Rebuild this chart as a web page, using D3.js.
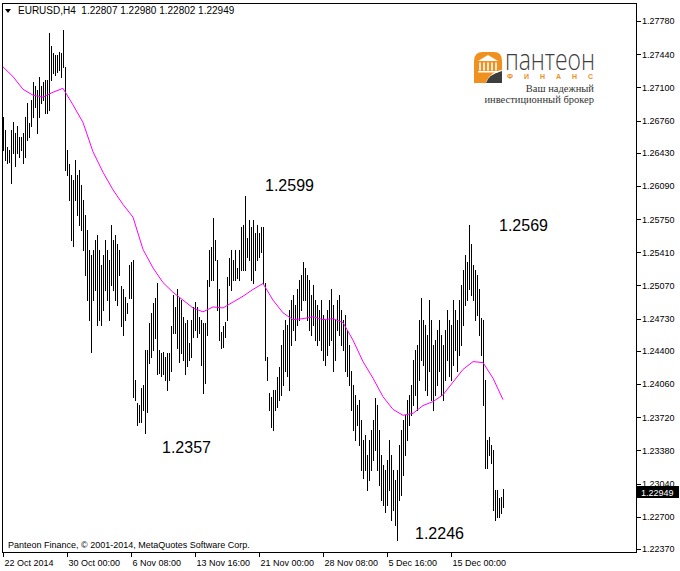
<!DOCTYPE html>
<html>
<head>
<meta charset="utf-8">
<script src="https://cdn.jsdelivr.net/npm/d3@7"></script>
<style>
  body { margin: 0; background: #fff; }
  svg { display: block; }
  text { font-family: "Liberation Sans", Arial, sans-serif; }
</style>
</head>
<body>
<div id="chart"></div>
<script>
// EURUSD H4, 22 Oct - 17 Dec 2014
var symbol = 'EURUSD,H4';
var lastQuote = [1.22807, 1.22980, 1.22802, 1.22949]; // open high low close

var highs = [
  1.2680,1.2666,1.2649,1.2646,1.2666,1.2675,1.2663,1.2670,1.2659,1.2659,
  1.2663,1.2680,1.2694,1.2674,1.2697,1.2715,1.2711,1.2707,1.2721,1.2711,
  1.2715,1.2718,1.2718,1.2766,1.2752,1.2745,1.2743,1.2743,1.2746,1.2745,
  1.2769,1.2731,1.2646,1.2631,1.2620,1.2615,1.2636,1.2620,1.2625,1.2610,
  1.2595,1.2579,1.2564,1.2543,1.2538,1.2543,1.2554,1.2559,1.2543,1.2528,
  1.2538,1.2554,1.2543,1.2533,1.2569,1.2554,1.2559,1.2549,1.2543,1.2506,
  1.2503,1.2495,1.2489,1.2528,1.2531,1.2533,1.2410,1.2387,1.2385,1.2402,
  1.2405,1.2441,1.2441,1.2469,1.2479,1.2489,1.2494,1.2510,1.2441,1.2438,
  1.2439,1.2434,1.2438,1.2438,1.2465,1.2497,1.2485,1.2503,1.2495,1.2492,
  1.2475,1.2469,1.2472,1.2448,1.2472,1.2485,1.2490,1.2485,1.2475,1.2472,
  1.2469,1.2469,1.2513,1.2543,1.2546,1.2576,1.2554,1.2533,1.2503,1.2459,
  1.2465,1.2470,1.2516,1.2535,1.2543,1.2533,1.2543,1.2525,1.2543,1.2567,
  1.2569,1.2599,1.2556,1.2574,1.2567,1.2574,1.2561,1.2569,1.2561,1.2567,
  1.2567,1.2510,1.2434,1.2397,1.2393,1.2400,1.2400,1.2413,1.2423,1.2446,
  1.2461,1.2472,1.2467,1.2482,1.2492,1.2497,1.2487,1.2503,1.2513,1.2518,
  1.2531,1.2525,1.2518,1.2513,1.2497,1.2508,1.2492,1.2487,1.2482,1.2492,
  1.2477,1.2472,1.2482,1.2492,1.2503,1.2487,1.2472,1.2492,1.2497,1.2482,
  1.2472,1.2477,1.2461,1.2446,1.2419,1.2405,1.2395,1.2385,1.2390,1.2369,
  1.2349,1.2354,1.2333,1.2349,1.2359,1.2369,1.2392,1.2385,1.2359,1.2333,
  1.2323,1.2318,1.2328,1.2349,1.2333,1.2318,1.2308,1.2318,1.2344,1.2359,
  1.2369,1.2374,1.2390,1.2395,1.2405,1.2431,1.2441,1.2446,1.2472,1.2494,
  1.2472,1.2467,1.2456,1.2492,1.2472,1.2446,1.2451,1.2461,1.2472,1.2456,
  1.2446,1.2461,1.2482,1.2472,1.2467,1.2492,1.2482,1.2472,1.2492,1.2508,
  1.2523,1.2538,1.2531,1.2569,1.2549,1.2528,1.2523,1.2518,1.2503,1.2474,
  1.2472,1.2410,1.2349,1.2352,1.2344,1.2338,1.2297,1.2297,1.2289,1.2290,
  1.2298
];

var lows = [
  1.2646,1.2636,1.2633,1.2634,1.2612,1.2643,1.2629,1.2643,1.2639,1.2646,
  1.2633,1.2639,1.2656,1.2659,1.2670,1.2680,1.2690,1.2663,1.2680,1.2694,
  1.2697,1.2684,1.2684,1.2687,1.2718,1.2725,1.2723,1.2726,1.2728,1.2721,
  1.2731,1.2625,1.2620,1.2595,1.2554,1.2547,1.2595,1.2579,1.2569,1.2564,
  1.2543,1.2518,1.2492,1.2472,1.2439,1.2492,1.2502,1.2467,1.2472,1.2467,
  1.2482,1.2502,1.2492,1.2472,1.2508,1.2502,1.2492,1.2487,1.2518,1.2465,
  1.2456,1.2472,1.2479,1.2494,1.2494,1.2393,1.2390,1.2364,1.2367,1.2367,
  1.2379,1.2356,1.2377,1.2428,1.2434,1.2441,1.2453,1.2416,1.2417,1.2414,
  1.2416,1.2410,1.2400,1.2410,1.2419,1.2458,1.2458,1.2443,1.2429,1.2438,
  1.2431,1.2416,1.2424,1.2431,1.2434,1.2454,1.2461,1.2454,1.2458,1.2426,
  1.2397,1.2407,1.2456,1.2506,1.2513,1.2513,1.2533,1.2482,1.2451,1.2443,
  1.2444,1.2454,1.2472,1.2508,1.2502,1.2513,1.2513,1.2515,1.2513,1.2523,
  1.2523,1.2523,1.2536,1.2533,1.2513,1.2510,1.2523,1.2533,1.2536,1.2541,
  1.2510,1.2431,1.2410,1.2379,1.2362,1.2359,1.2379,1.2383,1.2390,1.2395,
  1.2405,1.2419,1.2414,1.2400,1.2446,1.2461,1.2451,1.2467,1.2472,1.2482,
  1.2492,1.2492,1.2472,1.2461,1.2456,1.2467,1.2451,1.2446,1.2451,1.2441,
  1.2431,1.2426,1.2436,1.2446,1.2451,1.2419,1.2431,1.2461,1.2456,1.2446,
  1.2441,1.2419,1.2414,1.2405,1.2379,1.2359,1.2349,1.2364,1.2344,1.2318,
  1.2310,1.2318,1.2297,1.2308,1.2318,1.2328,1.2338,1.2318,1.2303,1.2287,
  1.2282,1.2275,1.2282,1.2297,1.2267,1.2277,1.2262,1.2246,1.2287,1.2292,
  1.2313,1.2333,1.2349,1.2364,1.2374,1.2385,1.2395,1.2379,1.2410,1.2431,
  1.2426,1.2400,1.2395,1.2419,1.2390,1.2379,1.2395,1.2405,1.2419,1.2395,
  1.2390,1.2410,1.2431,1.2414,1.2410,1.2426,1.2441,1.2419,1.2436,1.2446,
  1.2467,1.2487,1.2492,1.2503,1.2497,1.2492,1.2472,1.2477,1.2456,1.2436,
  1.2385,1.2320,1.2320,1.2333,1.2325,1.2277,1.2267,1.2270,1.2270,1.2274,
  1.2280
];

// moving average, read every 5th bar
var maStep = 5;
var maValues = [
  1.2731,1.2721,1.2708,1.2702,1.2700,1.2705,1.2709,1.2692,1.2674,1.2644,
  1.2623,1.2605,1.2590,1.2577,1.2544,1.2525,1.2510,1.2500,1.2492,1.2484,
  1.2480,1.2485,1.2484,1.2490,1.2496,1.2503,1.2509,1.2492,1.2479,1.2472,
  1.2473,1.2475,1.2472,1.2473,1.2469,1.2451,1.2429,1.2412,1.2393,1.2380,
  1.2374,1.2376,1.2384,1.2388,1.2395,1.2408,1.2421,1.2429,1.2428,1.2412,
  1.2390
];

var priceTicks = [1.2237, 1.2270, 1.2304, 1.2338, 1.2372, 1.2406, 1.2440, 1.2473, 1.2507,
                  1.2541, 1.2575, 1.2609, 1.2643, 1.2676, 1.2710, 1.2744, 1.2778];
var timeTicks = [0, 32, 64, 96, 128, 160, 192, 224];
var timeLabels = ['22 Oct 2014', '30 Oct 00:00', '6 Nov 08:00', '13 Nov 16:00',
                  '21 Nov 00:00', '28 Nov 08:00', '5 Dec 16:00', '15 Dec 00:00'];

// swing highs / lows marked on the chart
var swingBars = [121, 71, 233, 197];
var swingValues = [1.2599, 1.2357, 1.2569, 1.2246];
var swingOffsets = [[20, -5], [17, 21], [30, 6], [18, -1]];

var width = 680, height = 571;

var svg = d3.select('#chart').append('svg')
    .attr('width', width)
    .attr('height', height);

svg.append('rect').attr('width', width).attr('height', height).attr('fill', '#fff');

var x = d3.scaleLinear().domain([0, 317]).range([3, 637]);
var y = d3.scaleLinear().domain([1.2237, 1.2778]).range([549, 21]);

// frame
svg.append('rect')
    .attr('x', 2.5).attr('y', 3.5)
    .attr('width', 634).attr('height', 549)
    .attr('fill', 'none')
    .attr('stroke', '#000')
    .attr('shape-rendering', 'crispEdges');

// logo
var logo = svg.append('g');
logo.append('path')
    .attr('d', 'M474,61 Q474,52 483,52 L494,52 Q502,52 502,61 L502,70 Q494,71 489,77 Q486,81 486,83 L474,83 Z')
    .attr('fill', '#f0901e');
logo.append('path')
    .attr('d', 'M486,83 Q489,74 502,71 L502,83 Z')
    .attr('fill', '#3d3d3d');
logo.append('path')
    .attr('d', 'M478,61 L488,55 L498,61 Z')
    .attr('fill', '#fff');
[480, 484, 488, 492, 496].forEach(function(cx){
  logo.append('rect').attr('x', cx - 0.8).attr('y', 62.5).attr('width', 1.6).attr('height', 8).attr('fill', '#fff');
});
logo.append('rect').attr('x', 478).attr('y', 71).attr('width', 20).attr('height', 1.5).attr('fill', '#fff');
logo.append('text')
    .attr('x', 505).attr('y', 70)
    .attr('font-size', 30)
    .attr('textLength', 90)
    .attr('lengthAdjust', 'spacingAndGlyphs')
    .attr('fill', '#404040')
    .style('font-family', '"Open Sans", "Noto Sans", sans-serif')
    .style('font-weight', 300)
    .text('пантеон');
logo.append('text')
    .attr('x', 507).attr('y', 79)
    .attr('font-size', 7)
    .attr('textLength', 86)
    .attr('lengthAdjust', 'spacing')
    .attr('fill', '#f0901e')
    .style('font-weight', 'bold')
    .text('ФИНАНС');
logo.append('text')
    .attr('x', 594).attr('y', 92)
    .attr('text-anchor', 'end')
    .attr('font-size', 10.5)
    .attr('fill', '#333')
    .style('font-family', '"Liberation Serif", serif')
    .text('Ваш надежный');
logo.append('text')
    .attr('x', 594).attr('y', 103)
    .attr('text-anchor', 'end')
    .attr('font-size', 10.5)
    .attr('fill', '#333')
    .style('font-family', '"Liberation Serif", serif')
    .text('инвестиционный брокер');

// bars (high-low)
svg.append('g')
    .selectAll('line')
    .data(highs)
    .enter().append('line')
    .attr('x1', function(d, i){ return Math.round(x(i)) + 0.5; })
    .attr('x2', function(d, i){ return Math.round(x(i)) + 0.5; })
    .attr('y1', function(d){ return Math.round(y(d)); })
    .attr('y2', function(d, i){ return Math.round(y(lows[i])) + 1; })
    .attr('stroke', '#000')
    .attr('stroke-width', 1)
    .attr('shape-rendering', 'crispEdges');

// moving average
var maLine = d3.line()
    .x(function(d, i){ return x(i * maStep); })
    .y(function(d){ return y(d); });

svg.append('path')
    .datum(maValues)
    .attr('d', maLine)
    .attr('fill', 'none')
    .attr('stroke', '#ff00ff')
    .attr('stroke-width', 1);

// price axis
var yAxis = d3.axisRight(y)
    .tickValues(priceTicks)
    .tickSize(4)
    .tickPadding(1)
    .tickFormat(d3.format('.5f'));

var gy = svg.append('g')
    .attr('transform', 'translate(637,0)')
    .call(yAxis);
gy.select('.domain').remove();
gy.attr('font-size', 9).attr('font-family', '"Liberation Sans", Arial, sans-serif');
gy.selectAll('line').attr('shape-rendering', 'crispEdges');

// current price tag
var close = lastQuote[3];
svg.append('rect')
    .attr('x', 637).attr('y', Math.round(y(close)) - 6)
    .attr('width', 42).attr('height', 12)
    .attr('fill', '#000');
svg.append('text')
    .attr('x', 641).attr('y', y(close))
    .attr('dy', '0.35em')
    .attr('font-size', 9)
    .attr('fill', '#fff')
    .text(d3.format('.5f')(close));

// time axis
var xAxis = d3.axisBottom(x)
    .tickValues(timeTicks)
    .tickSize(4)
    .tickPadding(3)
    .tickFormat(function(d, i){ return timeLabels[i]; });

var gx = svg.append('g')
    .attr('transform', 'translate(0,553)')
    .call(xAxis);
gx.select('.domain').remove();
gx.attr('font-size', 9).attr('font-family', '"Liberation Sans", Arial, sans-serif');
gx.selectAll('text').attr('text-anchor', 'start').attr('x', 1);
gx.selectAll('line').attr('shape-rendering', 'crispEdges');

// swing labels
svg.append('g')
    .selectAll('text')
    .data(swingValues)
    .enter().append('text')
    .attr('x', function(d, i){ return x(swingBars[i]) + swingOffsets[i][0]; })
    .attr('y', function(d, i){ return y(d) + swingOffsets[i][1]; })
    .attr('font-size', 16)
    .attr('fill', '#000')
    .text(function(d){ return d3.format('.4f')(d); });

// header
svg.append('path')
    .attr('d', 'M5,9 L11,9 L8,13 Z')
    .attr('fill', '#000');
svg.append('text')
    .attr('x', 18).attr('y', 14)
    .attr('font-size', 10)
    .style('white-space', 'pre')
    .text(symbol + '  ' + lastQuote.map(d3.format('.5f')).join(' '));

svg.append('text')
    .attr('x', 8).attr('y', 548)
    .attr('font-size', 9)
    .text('Panteon Finance, © 2001-2014, MetaQuotes Software Corp.');
</script>
</body>
</html>
